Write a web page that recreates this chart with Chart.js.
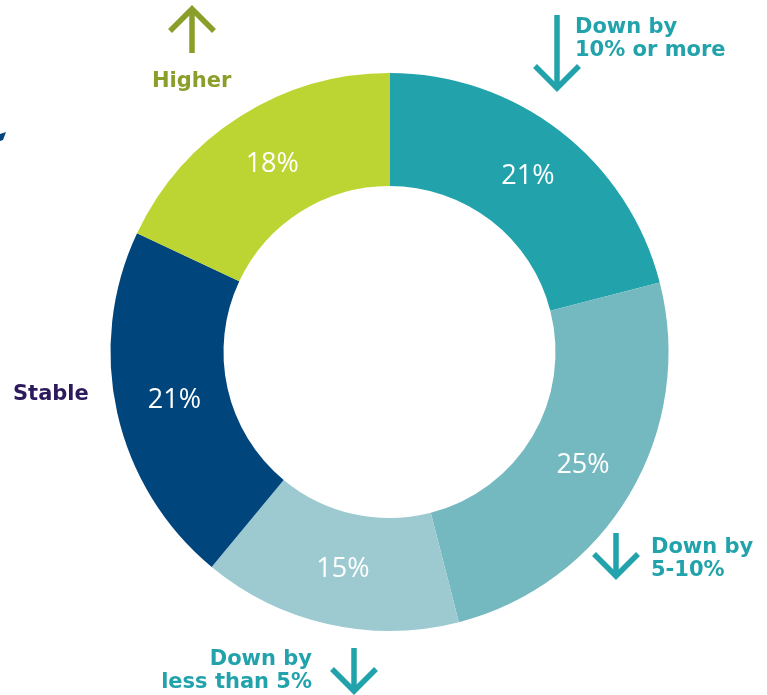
<!DOCTYPE html>
<html>
<head>
<meta charset="utf-8">
<title>Price outlook</title>
<script src="https://cdn.jsdelivr.net/npm/chart.js@4.4.1/dist/chart.umd.min.js"></script>
<style>
  html, body { margin: 0; padding: 0; background: #ffffff; }
  #wrap { width: 767px; height: 695px; position: relative; }
</style>
</head>
<body>
<div id="wrap"><canvas id="outlookChart" width="767" height="695"></canvas></div>
<script>
// Share of respondents per expected price move (clockwise from 12 o'clock)
const categories = ['Down by 10% or more', 'Down by 5-10%', 'Down by less than 5%', 'Stable', 'Higher'];
const shares = [21, 25, 15, 21, 18];
const sliceColors = ['#22a3ac', '#74b9bf', '#9dcad0', '#00457c', '#bdd532'];

// Outside captions: text lines and colour
const captionLines = [
    ['Down by', '10% or more'],
    ['Down by', '5-10%'],
    ['Down by', 'less than 5%'],
    ['Stable'],
    ['Higher']
];
const captionColors = ['#22a3ac', '#22a3ac', '#22a3ac', '#2d1a5c', '#8a9e2a'];

const captionFont = 'bold 21px "DejaVu Sans", sans-serif';

// simple chevron arrow: shaft from (x, y0) to tip (x, y1)
function drawArrow(ctx, x, y0, y1, color) {
    const dir = y1 > y0 ? 1 : -1;
    ctx.save();
    ctx.strokeStyle = color;
    ctx.lineWidth = 5.5;
    ctx.lineCap = 'butt';
    ctx.lineJoin = 'miter';
    ctx.beginPath();
    ctx.moveTo(x, y0);
    ctx.lineTo(x, y1 - dir * 3);
    ctx.stroke();
    ctx.beginPath();
    ctx.moveTo(x - 22, y1 - dir * 24);
    ctx.lineTo(x, y1 - dir * 2);
    ctx.lineTo(x + 22, y1 - dir * 24);
    ctx.stroke();
    ctx.restore();
}

function drawCaption(ctx, lines, x, y, color, align) {
    ctx.save();
    ctx.font = captionFont;
    ctx.fillStyle = color;
    ctx.textAlign = align;
    ctx.textBaseline = 'alphabetic';
    lines.forEach((line, i) => ctx.fillText(line, x, y + i * 23));
    ctx.restore();
}

// white percentage inside each ring slice
const sliceLabels = {
    id: 'sliceLabels',
    afterDatasetsDraw(chart) {
        const ctx = chart.ctx;
        const arcs = chart.getDatasetMeta(0).data;
        ctx.save();
        ctx.font = '27px "Open Sans", sans-serif';
        ctx.fillStyle = '#ffffff';
        ctx.textAlign = 'center';
        ctx.textBaseline = 'middle';
        arcs.forEach((arc, i) => {
            const p = arc.tooltipPosition();
            ctx.fillText(shares[i] + '%', p.x + 2, p.y);
        });
        ctx.restore();
    }
};

// captions and arrows around the ring
const captions = {
    id: 'captions',
    afterDraw(chart) {
        const ctx = chart.ctx;
        drawCaption(ctx, captionLines[0], 575, 33, captionColors[0], 'left');
        drawArrow(ctx, 557, 15, 90, captionColors[0]);

        drawCaption(ctx, captionLines[1], 651, 553, captionColors[1], 'left');
        drawArrow(ctx, 616, 533, 578, captionColors[1]);

        drawCaption(ctx, captionLines[2], 312, 665, captionColors[2], 'right');
        drawArrow(ctx, 354, 648, 693, captionColors[2]);

        drawCaption(ctx, captionLines[3], 13, 400, captionColors[3], 'left');

        drawCaption(ctx, captionLines[4], 152, 87, captionColors[4], 'left');
        drawArrow(ctx, 192, 53, 7, captionColors[4]);

        // clipped arrow fragment at the left edge
        ctx.save();
        ctx.fillStyle = '#00457c';
        ctx.beginPath();
        ctx.moveTo(0, 134);
        ctx.lineTo(6, 132);
        ctx.lineTo(3, 140);
        ctx.lineTo(0, 141);
        ctx.closePath();
        ctx.fill();
        ctx.restore();
    }
};

new Chart(document.getElementById('outlookChart'), {
    type: 'doughnut',
    data: {
        labels: categories,
        datasets: [{
            data: shares,
            backgroundColor: sliceColors,
            borderWidth: 0
        }]
    },
    options: {
        responsive: false,
        animation: false,
        cutout: '59.5%',
        layout: {
            padding: { left: 110.5, right: 98.5, top: 73, bottom: 64 }
        },
        plugins: {
            legend: { display: false },
            tooltip: { enabled: false }
        }
    },
    plugins: [sliceLabels, captions]
});
</script>
</body>
</html>
